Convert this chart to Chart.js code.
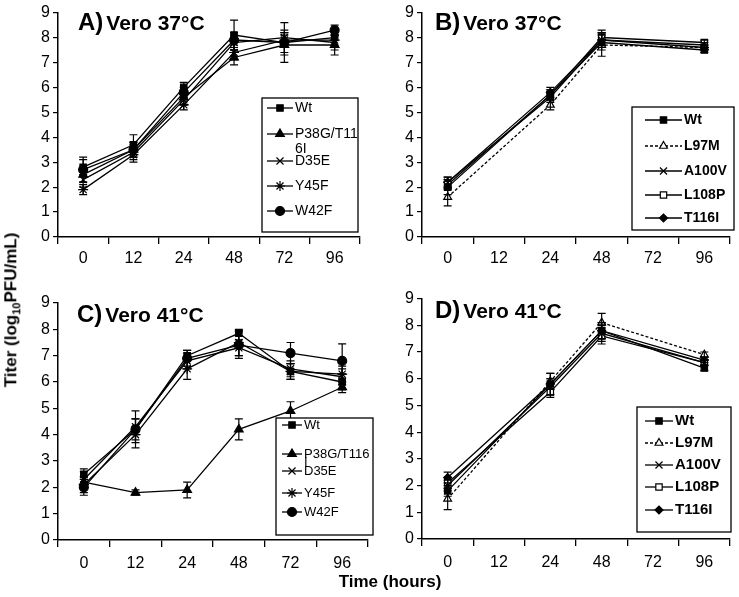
<!DOCTYPE html>
<html>
<head>
<meta charset="utf-8">
<script src="https://cdn.jsdelivr.net/npm/chart.js@4.4.1/dist/chart.umd.min.js"></script>
<style>
  body { margin: 0; background: #fff; width: 739px; height: 597px; position: relative; overflow: hidden;
         font-family: "Liberation Sans", Arial, sans-serif; }
  .panel { position: absolute; }
  #ytitle { position: absolute; left: 12px; top: 310px; transform: translate(-50%, -50%) rotate(-90deg);
            font-weight: bold; font-size: 17px; white-space: nowrap; }
  #xtitle { position: absolute; left: 390px; top: 582px; transform: translate(-50%, -50%);
            font-weight: bold; font-size: 17px; white-space: nowrap; }
</style>
</head>
<body>
<div class="panel" style="left:0;top:0"><canvas id="chartA" width="366" height="270"></canvas></div>
<div class="panel" style="left:378px;top:0"><canvas id="chartB" width="361" height="270"></canvas></div>
<div class="panel" style="left:0;top:290px"><canvas id="chartC" width="376" height="285"></canvas></div>
<div class="panel" style="left:378px;top:286px"><canvas id="chartD" width="361" height="289"></canvas></div>
<div id="ytitle">Titer (log<sub style="font-size:11px">10</sub>PFU/mL)</div>
<div id="xtitle">Time (hours)</div>

<script>
const hours = ["0", "12", "24", "48", "72", "96"];
const mutantsAC = ["Wt", "P38G/T116I", "D35E", "Y45F", "W42F"];
const mutantsBD = ["Wt", "L97M", "A100V", "L108P", "T116I"];

// A) Vero 37°C
const aWt   = [2.8, 3.7, 6.0, 8.1, 7.8, 8.0];
const aP38G = [2.5, 3.5, 5.6, 7.2, 7.7, 7.7];
const aD35E = [2.3, 3.4, 5.5, 7.8, 8.0, 7.8];
const aY45F = [1.9, 3.3, 5.3, 7.4, 7.9, 7.9];
const aW42F = [2.7, 3.5, 5.8, 7.9, 7.8, 8.3];
const aWtErr   = [0.3, 0.4, 0.2, 0.6, 0.4, 0.3];
const aP38GErr = [0.3, 0.3, 0.3, 0.3, 0.4, 0.4];
const aD35EErr = [0.3, 0.3, 0.2, 0.3, 0.3, 0.3];
const aY45FErr = [0.2, 0.3, 0.2, 0.3, 0.3, 0.3];
const aW42FErr = [0.5, 0.3, 0.2, 0.3, 0.8, 0.2];

// B) Vero 37°C (no samples at 12 and 72 h)
const bWt    = [2.0, null, 5.7, 7.8, null, 7.5];
const bL97M  = [1.6, null, 5.3, 7.7, null, 7.6];
const bA100V = [2.2, null, 5.6, 7.9, null, 7.7];
const bL108P = [2.1, null, 5.7, 8.0, null, 7.8];
const bT116I = [2.2, null, 5.8, 7.9, null, 7.6];
const bWtErr    = [0.3, null, 0.2, 0.3, null, 0.1];
const bL97MErr  = [0.35, null, 0.2, 0.45, null, 0.1];
const bA100VErr = [0.2, null, 0.2, 0.3, null, 0.1];
const bL108PErr = [0.2, null, 0.2, 0.3, null, 0.1];
const bT116IErr = [0.2, null, 0.2, 0.3, null, 0.1];

// C) Vero 41°C
const cWt   = [2.5, 4.2, 7.0, 7.85, 6.4, 6.0];
const cP38G = [2.2, 1.8, 1.9, 4.2, 4.9, 5.8];
const cD35E = [2.3, 4.3, 6.8, 7.3, 6.5, 6.2];
const cY45F = [2.1, 4.0, 6.5, 7.5, 6.4, 6.3];
const cW42F = [2.0, 4.2, 6.9, 7.4, 7.1, 6.8];
const cWtErr   = [0.2, 0.4, 0.2, 0.1, 0.3, 0.3];
const cP38GErr = [0.2, 0.1, 0.3, 0.4, 0.35, 0.2];
const cD35EErr = [0.3, 0.3, 0.3, 0.3, 0.3, 0.3];
const cY45FErr = [0.3, 0.3, 0.4, 0.5, 0.3, 0.3];
const cW42FErr = [0.3, 0.7, 0.3, 0.5, 0.4, 0.65];

// D) Vero 41°C (no samples at 12 and 72 h)
const dWt    = [1.8, null, 5.8, 7.8, null, 6.4];
const dL97M  = [1.5, null, 5.9, 8.1, null, 6.9];
const dA100V = [2.0, null, 5.7, 7.7, null, 6.6];
const dL108P = [2.1, null, 5.5, 7.6, null, 6.6];
const dT116I = [2.3, null, 5.8, 7.8, null, 6.7];
const dWtErr    = [0.2, null, 0.4, 0.3, null, 0.1];
const dL97MErr  = [0.4, null, 0.3, 0.35, null, 0.1];
const dA100VErr = [0.2, null, 0.3, 0.3, null, 0.1];
const dL108PErr = [0.2, null, 0.2, 0.3, null, 0.1];
const dT116IErr = [0.2, null, 0.2, 0.3, null, 0.1];

// marker styles per series
const stylesAC = [
  { pointStyle: "rect", radius: 4.5, fill: "#000" },
  { pointStyle: "triangle", radius: 5, fill: "#000" },
  { pointStyle: "crossRot", radius: 5, fill: "#000" },
  { pointStyle: "star", radius: 5, fill: "#000" },
  { pointStyle: "circle", radius: 4.5, fill: "#000" },
];
const stylesBD = [
  { pointStyle: "rect", radius: 4.5, fill: "#000" },
  { pointStyle: "triangle", radius: 4.5, fill: "#fff", dash: [3, 2] },
  { pointStyle: "crossRot", radius: 5, fill: "#000" },
  { pointStyle: "rect", radius: 4.5, fill: "#fff" },
  { pointStyle: "rectRot", radius: 4, fill: "#000" },
];

const FONT = "'Liberation Sans', Arial, sans-serif";

const errorBars = {
  id: "errorBars",
  afterDatasetsDraw(chart) {
    const ctx = chart.ctx, ys = chart.scales.y;
    ctx.save();
    ctx.strokeStyle = "#000";
    ctx.lineWidth = 1.2;
    chart.data.datasets.forEach((ds, i) => {
      const meta = chart.getDatasetMeta(i);
      ds.errors.forEach((e, j) => {
        if (e == null || ds.data[j] == null) return;
        const px = meta.data[j].x;
        const top = ys.getPixelForValue(ds.data[j] + e);
        const bot = ys.getPixelForValue(ds.data[j] - e);
        ctx.beginPath();
        ctx.moveTo(px, top); ctx.lineTo(px, bot);
        ctx.moveTo(px - 4, top); ctx.lineTo(px + 4, top);
        ctx.moveTo(px - 4, bot); ctx.lineTo(px + 4, bot);
        ctx.stroke();
      });
    });
    ctx.restore();
  },
};

const panelTitle = {
  id: "panelTitle",
  afterDraw(chart, args, o) {
    const ctx = chart.ctx;
    ctx.save();
    ctx.fillStyle = "#000";
    ctx.textBaseline = "alphabetic";
    ctx.font = "bold 24px " + FONT;
    ctx.fillText(o.letter, o.x, o.y);
    const w = ctx.measureText(o.letter).width;
    ctx.font = "bold 21px " + FONT;
    ctx.fillText(o.text, o.x + w + 3, o.y);
    ctx.restore();
  },
};

function wrapText(ctx, text, maxW) {
  const lines = [];
  let cur = "";
  for (const ch of text) {
    if (cur && ctx.measureText(cur + ch).width > maxW) { lines.push(cur); cur = ch; }
    else cur += ch;
  }
  if (cur) lines.push(cur);
  return lines;
}

const boxLegend = {
  id: "boxLegend",
  afterDraw(chart, args, o) {
    const ctx = chart.ctx;
    const [l, t, r, b] = o.box;
    ctx.save();
    ctx.fillStyle = "#fff";
    ctx.fillRect(l, t, r - l, b - t);
    ctx.strokeStyle = "#000";
    ctx.lineWidth = 1.3;
    ctx.strokeRect(l, t, r - l, b - t);
    ctx.font = o.font;
    ctx.textBaseline = "middle";
    chart.data.datasets.forEach((ds, i) => {
      const y = o.ys[i];
      ctx.strokeStyle = "#000";
      ctx.lineWidth = ds.borderWidth;
      ctx.setLineDash(ds.borderDash || []);
      ctx.beginPath();
      ctx.moveTo(o.x0, y); ctx.lineTo(o.x1, y);
      ctx.stroke();
      ctx.setLineDash([]);
      ctx.fillStyle = ds.pointBackgroundColor;
      ctx.lineWidth = 1.2;
      if (Chart.helpers && Chart.helpers.drawPoint) {
        Chart.helpers.drawPoint(ctx, { pointStyle: ds.pointStyle, radius: ds.pointRadius, rotation: 0, borderWidth: 1.2 }, (o.x0 + o.x1) / 2, y);
      }
      ctx.fillStyle = "#000";
      wrapText(ctx, ds.label, o.wrapW).forEach((line, k) => {
        ctx.fillText(line, o.textX, y + k * o.lineGap);
      });
    });
    ctx.restore();
  },
};

function makeSets(names, values, errs, styles) {
  return names.map((n, i) => ({
    label: n,
    data: values[i],
    errors: errs[i],
    borderColor: "#000",
    borderWidth: 1.3,
    borderDash: styles[i].dash || [],
    pointStyle: styles[i].pointStyle,
    pointRadius: styles[i].radius,
    pointBackgroundColor: styles[i].fill,
    pointBorderColor: "#000",
    pointBorderWidth: 1.2,
    tension: 0,
    spanGaps: true,
    fill: false,
  }));
}

function panel(id, names, values, errs, styles, o) {
  return new Chart(document.getElementById(id).getContext("2d"), {
    type: "line",
    data: { labels: hours, datasets: makeSets(names, values, errs, styles) },
    plugins: [errorBars, panelTitle, boxLegend],
    options: {
      responsive: false,
      animation: false,
      layout: { padding: o.padding },
      plugins: {
        legend: { display: false },
        tooltip: { enabled: false },
        panelTitle: o.title,
        boxLegend: o.legend,
      },
      scales: {
        x: {
          offset: true,
          grid: { offset: true, drawOnChartArea: false, tickLength: 7, color: "#000", lineWidth: 1.3 },
          border: { color: "#000", width: 1.5 },
          ticks: { color: "#000", font: { size: 16, family: FONT }, padding: o.tickPad, maxRotation: 0 },
          afterFit(s) { s.height = o.xHeight; },
        },
        y: {
          min: 0,
          max: 9,
          ticks: { stepSize: 1, color: "#000", font: { size: 16, family: FONT }, padding: 3 },
          grid: { drawOnChartArea: false, tickLength: 5, color: "#000", lineWidth: 1.2 },
          border: { color: "#000", width: 1.5 },
          afterFit(s) { s.width = o.yWidth; },
        },
      },
    },
  });
}

panel("chartA", mutantsAC,
  [aWt, aP38G, aD35E, aY45F, aW42F],
  [aWtErr, aP38GErr, aD35EErr, aY45FErr, aW42FErr], stylesAC, {
    padding: { top: 12, right: 6, left: 0, bottom: 0 }, yWidth: 58, xHeight: 33, tickPad: 5,
    title: { letter: "A)", text: "Vero 37°C", x: 78, y: 30 },
    legend: { box: [262, 98, 358, 232], ys: [108, 134, 161, 186, 211], x0: 267, x1: 293, textX: 295,
              font: "14px " + FONT, wrapW: 66, lineGap: 15 },
  });

panel("chartB", mutantsBD,
  [bWt, bL97M, bA100V, bL108P, bT116I],
  [bWtErr, bL97MErr, bA100VErr, bL108PErr, bT116IErr], stylesBD, {
    padding: { top: 10, right: 9, left: 0, bottom: 0 }, yWidth: 44, xHeight: 33, tickPad: 5,
    title: { letter: "B)", text: "Vero 37°C", x: 57, y: 30 },
    legend: { box: [254, 107, 356, 230], ys: [120, 146, 171, 195, 218], x0: 267, x1: 304, textX: 306,
              font: "bold 14px " + FONT, wrapW: 60, lineGap: 15 },
  });

panel("chartC", mutantsAC,
  [cWt, cP38G, cD35E, cY45F, cW42F],
  [cWtErr, cP38GErr, cD35EErr, cY45FErr, cW42FErr], stylesAC, {
    padding: { top: 13, right: 8, left: 0, bottom: 0 }, yWidth: 58, xHeight: 35, tickPad: 7,
    title: { letter: "C)", text: "Vero 41°C", x: 77, y: 32 },
    legend: { box: [276, 128, 373, 245], ys: [135, 164, 181, 203, 222], x0: 282, x1: 302, textX: 304,
              font: "13px " + FONT, wrapW: 66, lineGap: 8 },
  });

panel("chartD", mutantsBD,
  [dWt, dL97M, dA100V, dL108P, dT116I],
  [dWtErr, dL97MErr, dA100VErr, dL108PErr, dT116IErr], stylesBD, {
    padding: { top: 12, right: 9, left: 0, bottom: 0 }, yWidth: 44, xHeight: 36, tickPad: 7,
    title: { letter: "D)", text: "Vero 41°C", x: 57, y: 32 },
    legend: { box: [259, 121, 353, 246], ys: [135, 157, 179, 201, 224], x0: 267, x1: 295, textX: 297,
              font: "bold 15px " + FONT, wrapW: 60, lineGap: 15 },
  });
</script>
</body>
</html>
